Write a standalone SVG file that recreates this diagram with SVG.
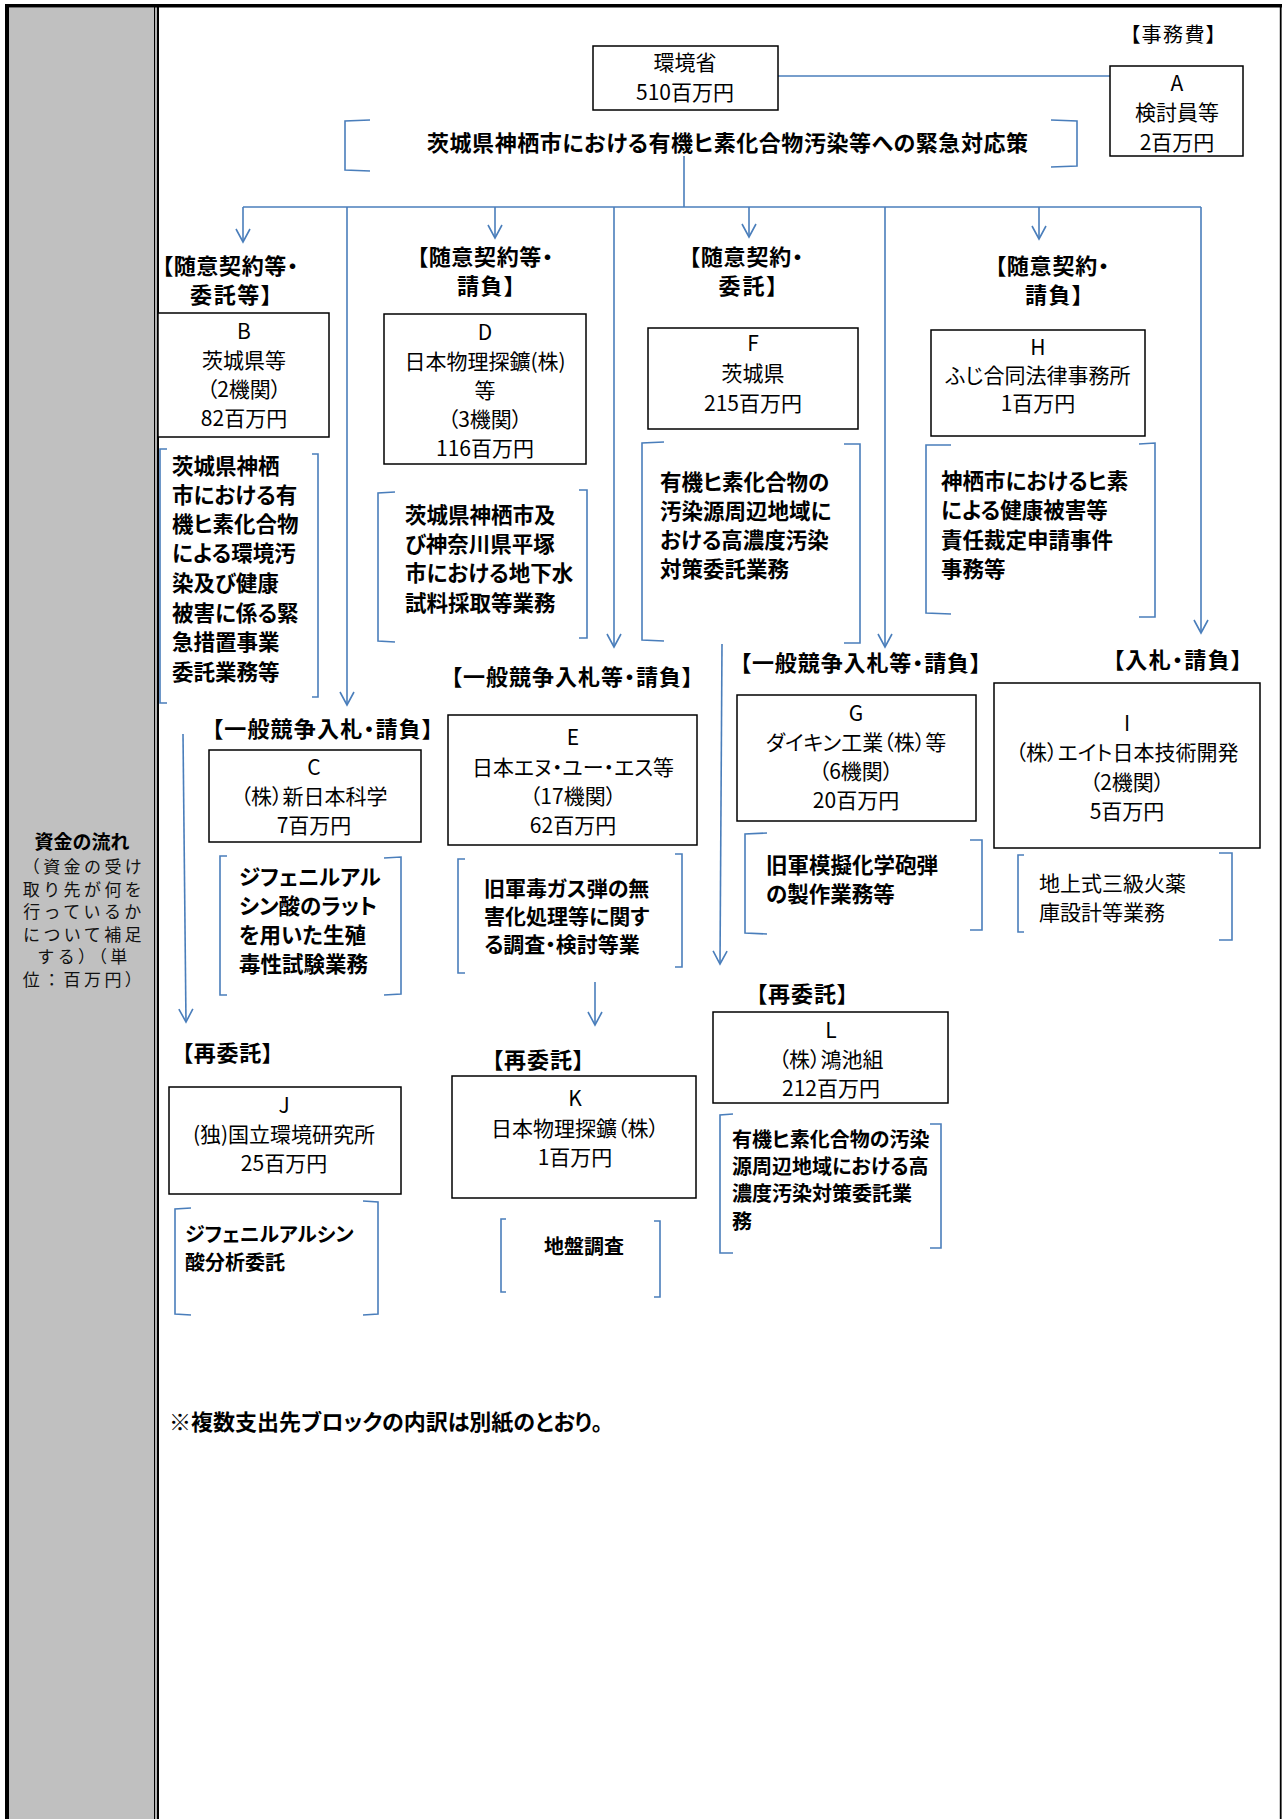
<svg xmlns="http://www.w3.org/2000/svg" width="1282" height="1819" viewBox="0 0 1282 1819">
<style>
text{font-family:"Noto Sans CJK JP","Noto Sans CJK SC",sans-serif;fill:#000;font-feature-settings:"palt" 1;}
.bx{fill:#fff;stroke:#000;stroke-width:1.5;}
.t{font-size:21px;text-anchor:middle;}
.lb{font-size:22px;font-weight:700;}
.lbm{font-size:22px;font-weight:700;text-anchor:middle;}
.d{font-size:21.5px;font-weight:700;}
.d3{font-size:21px;font-weight:700;}
.d2{font-size:20px;font-weight:700;}
.br{fill:none;stroke:#4a7ebb;stroke-width:1.6;}
.cn{fill:none;stroke:#4a7ebb;stroke-width:1.6;}
.ar{fill:none;stroke:#4a7ebb;stroke-width:1.6;marker-end:url(#arr);}
.side{font-size:17px;text-anchor:middle;letter-spacing:3.4px;fill:#111;font-feature-settings:normal;}
</style>
<defs>
<marker id="arr" markerUnits="userSpaceOnUse" viewBox="-16 -10 18 20" refX="0" refY="0" markerWidth="18" markerHeight="20" orient="auto" overflow="visible">
<path d="M-13,-7 L0,0 L-13,7" fill="none" stroke="#4a7ebb" stroke-width="1.6"/>
</marker>
</defs>
<rect x="0" y="0" width="1282" height="1819" fill="#fff"/>
<g id="frame">
<rect x="9" y="7.5" width="145" height="1812" fill="#c0c0c0"/>
<rect x="5" y="4" width="1277" height="3.5" fill="#000"/>
<rect x="5" y="4" width="4" height="1815" fill="#000"/>
<rect x="154" y="4" width="1.3" height="1815" fill="#000"/>
<rect x="156.7" y="4" width="2.3" height="1815" fill="#000"/>
<rect x="1279.8" y="4" width="1.8" height="1815" fill="#000"/>
</g>
<g id="side-label">
<text x="82" y="849" style="font-size:19px;font-weight:700;text-anchor:middle;font-feature-settings:normal;">資金の流れ</text>
<text class="side" x="84" y="873">（資金の受け</text>
<text class="side" x="84" y="896">取り先が何を</text>
<text class="side" x="84" y="918">行っているか</text>
<text class="side" x="84" y="941">について補足</text>
<text class="side" x="84" y="963">する）（単</text>
<text class="side" x="84" y="986">位：百万円）</text>
</g>
<g id="connectors">
<line class="cn" x1="778" y1="76" x2="1110" y2="76"/>
<line class="cn" x1="684" y1="156" x2="684" y2="207"/>
<line class="cn" x1="243" y1="207" x2="1201" y2="207"/>
<line class="ar" x1="243" y1="207" x2="243" y2="242"/>
<line class="ar" x1="347" y1="207" x2="347" y2="705"/>
<line class="ar" x1="495" y1="207" x2="495" y2="238"/>
<line class="ar" x1="614" y1="207" x2="614" y2="647"/>
<line class="ar" x1="749" y1="207" x2="749" y2="237"/>
<line class="ar" x1="885" y1="207" x2="885" y2="647"/>
<line class="ar" x1="1039" y1="207" x2="1039" y2="239"/>
<line class="ar" x1="1201" y1="207" x2="1201" y2="633"/>
<line class="ar" x1="183" y1="734" x2="186" y2="1022"/>
<line class="ar" x1="595" y1="982" x2="595" y2="1025"/>
<line class="ar" x1="722" y1="644" x2="720" y2="964"/>
</g>
<g id="node-kankyosho">
<rect class="bx" x="593" y="46" width="185" height="64"/>
<text class="t" x="685" y="70">環境省</text>
<text class="t" x="685" y="100">510百万円</text>
</g>
<g id="node-A">
<text x="1173" y="42" style="font-size:20px;text-anchor:middle;" textLength="86">【事務費】</text>
<rect class="bx" x="1110" y="66" width="133" height="90"/>
<text class="t" x="1177" y="91">A</text>
<text class="t" x="1177" y="120">検討員等</text>
<text class="t" x="1177" y="150">2百万円</text>
</g>
<g id="title">
<path class="br" d="M370,120 L345,121 L345,170 L370,171"/>
<path class="br" d="M1051,120 L1077,121 L1077,166 L1051,167"/>
<text class="lb" x="427" y="151" textLength="601">茨城県神栖市における有機ヒ素化合物汚染等への緊急対応策</text>
</g>
<g id="node-B">
<text class="lbm" x="230" y="274" textLength="136">【随意契約等・</text>
<text class="lbm" x="231" y="303" textLength="82">委託等】</text>
<rect class="bx" x="158" y="313" width="171" height="124"/>
<text class="t" x="244" y="339">B</text>
<text class="t" x="244" y="368">茨城県等</text>
<text class="t" x="244" y="397">（2機関）</text>
<text class="t" x="244" y="426">82百万円</text>
<path class="br" d="M167,449 L160,449 L160,703 L167,703"/>
<path class="br" d="M312,454 L318,454 L318,697 L312,697"/>
<text class="d" x="172" y="474">茨城県神栖</text>
<text class="d" x="172" y="503">市における有</text>
<text class="d" x="172" y="532">機ヒ素化合物</text>
<text class="d" x="172" y="561">による環境汚</text>
<text class="d" x="172" y="591">染及び健康</text>
<text class="d" x="172" y="621">被害に係る緊</text>
<text class="d" x="172" y="650">急措置事業</text>
<text class="d" x="172" y="680">委託業務等</text>
</g>
<g id="node-D">
<text class="lbm" x="485" y="265" textLength="136">【随意契約等・</text>
<text class="lbm" x="486" y="294" textLength="58">請負】</text>
<rect class="bx" x="384" y="314" width="202" height="150"/>
<text class="t" x="485" y="340">D</text>
<text class="t" x="485" y="369">日本物理探鑛(株)</text>
<text class="t" x="485" y="398">等</text>
<text class="t" x="485" y="427">（3機関）</text>
<text class="t" x="485" y="456">116百万円</text>
<path class="br" d="M395,492 L378,493 L378,641 L395,642"/>
<path class="br" d="M579,490 L587,490 L587,638 L579,638"/>
<text class="d" x="405" y="523">茨城県神栖市及</text>
<text class="d" x="405" y="552">び神奈川県平塚</text>
<text class="d" x="405" y="581">市における地下水</text>
<text class="d" x="405" y="611">試料採取等業務</text>
</g>
<g id="node-F">
<text class="lbm" x="746" y="265" textLength="114">【随意契約・</text>
<text class="lbm" x="748" y="294" textLength="59">委託】</text>
<rect class="bx" x="648" y="328" width="210" height="101"/>
<text class="t" x="753" y="351">F</text>
<text class="t" x="753" y="381">茨城県</text>
<text class="t" x="753" y="411">215百万円</text>
<path class="br" d="M664,442 L642,443 L642,640 L664,641"/>
<path class="br" d="M844,444 L860,444 L860,643 L844,643"/>
<text class="d" x="660" y="490">有機ヒ素化合物の</text>
<text class="d" x="660" y="519">汚染源周辺地域に</text>
<text class="d" x="660" y="548">おける高濃度汚染</text>
<text class="d" x="660" y="577">対策委託業務</text>
</g>
<g id="node-H">
<text class="lbm" x="1052" y="274" textLength="114">【随意契約・</text>
<text class="lbm" x="1054" y="303" textLength="58">請負】</text>
<rect class="bx" x="931" y="330" width="214" height="106"/>
<text class="t" x="1038" y="355">H</text>
<text class="t" x="1038" y="383">ふじ合同法律事務所</text>
<text class="t" x="1038" y="411">1百万円</text>
<path class="br" d="M951,445 L926,445 L926,613 L951,614"/>
<path class="br" d="M1139,444 L1155,443 L1155,617 L1139,617"/>
<text class="d" x="941" y="489">神栖市におけるヒ素</text>
<text class="d" x="941" y="518">による健康被害等</text>
<text class="d" x="941" y="548">責任裁定申請事件</text>
<text class="d" x="941" y="577">事務等</text>
</g>
<g id="node-C">
<text class="lb" x="212" y="737" textLength="221">【一般競争入札・請負】</text>
<rect class="bx" x="209" y="750" width="212" height="92"/>
<text class="t" x="314" y="775">C</text>
<text class="t" x="314" y="804">（株）新日本科学</text>
<text class="t" x="314" y="833">7百万円</text>
<path class="br" d="M227,856 L220,856 L220,995 L227,995"/>
<path class="br" d="M384,858 L401,857 L401,994 L384,995"/>
<text class="d" x="239" y="885">ジフェニルアル</text>
<text class="d" x="239" y="914">シン酸のラット</text>
<text class="d" x="239" y="943">を用いた生殖</text>
<text class="d" x="239" y="972">毒性試験業務</text>
</g>
<g id="node-E">
<text class="lb" x="451" y="685" textLength="242">【一般競争入札等・請負】</text>
<rect class="bx" x="448" y="715" width="249" height="130"/>
<text class="t" x="573" y="745">E</text>
<text class="t" x="573" y="775">日本エヌ・ユー・エス等</text>
<text class="t" x="573" y="804">（17機関）</text>
<text class="t" x="573" y="833">62百万円</text>
<path class="br" d="M465,859 L458,859 L458,973 L465,973"/>
<path class="br" d="M675,854 L682,854 L682,967 L675,967"/>
<text class="d3" x="484" y="896">旧軍毒ガス弾の無</text>
<text class="d3" x="484" y="924">害化処理等に関す</text>
<text class="d3" x="484" y="952">る調査・検討等業</text>
</g>
<g id="node-G">
<text class="lb" x="740" y="671" textLength="241">【一般競争入札等・請負】</text>
<rect class="bx" x="737" y="695" width="239" height="126"/>
<text class="t" x="856" y="721">G</text>
<text class="t" x="856" y="750">ダイキン工業（株）等</text>
<text class="t" x="856" y="779">（6機関）</text>
<text class="t" x="856" y="808">20百万円</text>
<path class="br" d="M767,833 L745,834 L745,933 L767,934"/>
<path class="br" d="M970,840 L982,840 L982,930 L970,930"/>
<text class="d" x="766" y="873">旧軍模擬化学砲弾</text>
<text class="d" x="766" y="902">の製作業務等</text>
</g>
<g id="node-I">
<text class="lb" x="1113" y="668" textLength="129">【入札・請負】</text>
<rect class="bx" x="994" y="683" width="266" height="165"/>
<text class="t" x="1127" y="731">I</text>
<text class="t" x="1127" y="760">（株）エイト日本技術開発</text>
<text class="t" x="1127" y="790">（2機関）</text>
<text class="t" x="1127" y="819">5百万円</text>
<path class="br" d="M1024,855 L1018,855 L1018,932 L1024,932"/>
<path class="br" d="M1219,853 L1232,853 L1232,940 L1219,940"/>
<text x="1039" y="891" style="font-size:21px;">地上式三級火薬</text>
<text x="1039" y="920" style="font-size:21px;">庫設計等業務</text>
</g>
<g id="node-J">
<text class="lb" x="182" y="1061" textLength="91">【再委託】</text>
<rect class="bx" x="169" y="1087" width="232" height="107"/>
<text class="t" x="284" y="1113">J</text>
<text class="t" x="284" y="1142">(独)国立環境研究所</text>
<text class="t" x="284" y="1171">25百万円</text>
<path class="br" d="M191,1208 L175,1209 L175,1314 L191,1315"/>
<path class="br" d="M363,1201 L378,1202 L378,1314 L363,1315"/>
<text class="d2" x="185" y="1242">ジフェニルアルシン</text>
<text class="d2" x="185" y="1270">酸分析委託</text>
</g>
<g id="node-K">
<text class="lb" x="492" y="1068" textLength="92">【再委託】</text>
<rect class="bx" x="452" y="1076" width="244" height="122"/>
<text class="t" x="575" y="1106">K</text>
<text class="t" x="575" y="1136">日本物理探鑛（株）</text>
<text class="t" x="575" y="1165">1百万円</text>
<path class="br" d="M506,1219 L501,1219 L501,1292 L506,1292"/>
<path class="br" d="M654,1221 L660,1221 L660,1297 L654,1297"/>
<text class="d2" x="584" y="1254" style="text-anchor:middle;">地盤調査</text>
</g>
<g id="node-L">
<text class="lb" x="756" y="1002" textLength="92">【再委託】</text>
<rect class="bx" x="713" y="1012" width="235" height="91"/>
<text class="t" x="831" y="1038">L</text>
<text class="t" x="831" y="1067">（株）鴻池組</text>
<text class="t" x="831" y="1096">212百万円</text>
<path class="br" d="M733,1114 L720,1115 L720,1253 L733,1253"/>
<path class="br" d="M930,1124 L941,1124 L941,1248 L930,1248"/>
<text class="d2" x="732" y="1147">有機ヒ素化合物の汚染</text>
<text class="d2" x="732" y="1174">源周辺地域における高</text>
<text class="d2" x="732" y="1201">濃度汚染対策委託業</text>
<text class="d2" x="732" y="1229">務</text>
</g>
<g id="note">
<text class="lb" x="169" y="1430">※複数支出先ブロックの内訳は別紙のとおり。</text>
</g>
</svg>
